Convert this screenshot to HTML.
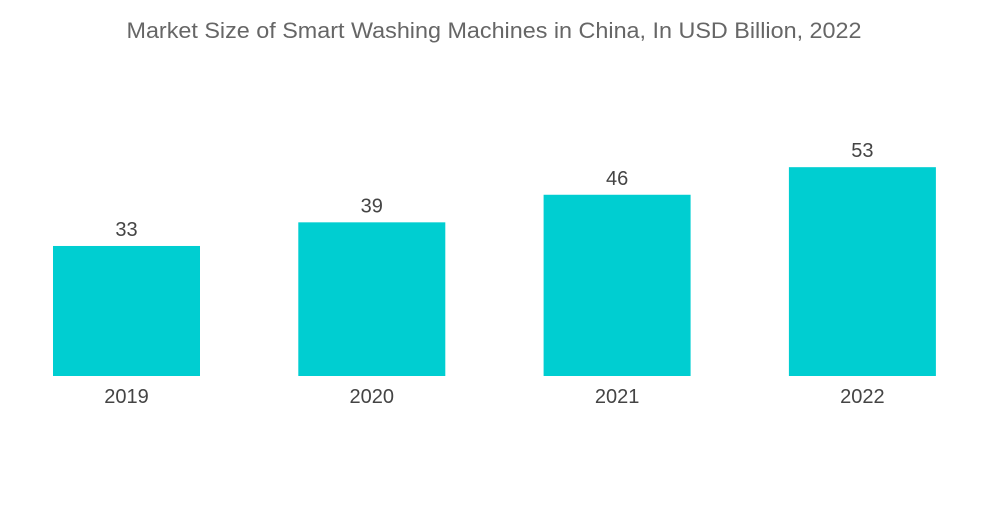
<!DOCTYPE html>
<html><head><meta charset="utf-8"><style>
body{margin:0;background:#fff;}
svg text{font-family:"Liberation Sans",sans-serif;}
</style></head><body>
<svg id="chart" width="1000" height="504">
<text x="494" y="38" text-anchor="middle" font-size="22.5" fill="#666" textLength="735" lengthAdjust="spacingAndGlyphs">Market Size of Smart Washing Machines in China, In USD Billion, 2022</text>
<g id="bars"></g>
</svg>
<script>
const categories = ["2019","2020","2021","2022"];
const values = [33,39,46,53];
const svg = document.getElementById('bars');
const ns = "http://www.w3.org/2000/svg";
const baseY = 376, pxPerUnit = 3.94, barW = 147, step = 245.3, x0 = 53;
function xPos(i){return x0 + i*step;}
function yPos(v){return baseY - v*pxPerUnit;}
categories.forEach((c,i)=>{
  const r=document.createElementNS(ns,'rect');
  r.setAttribute('x',xPos(i));r.setAttribute('y',yPos(values[i]));
  r.setAttribute('width',barW);r.setAttribute('height',baseY-yPos(values[i]));
  r.setAttribute('fill','#00CED1');
  
  
  svg.appendChild(r);
  const t=document.createElementNS(ns,'text');
  t.setAttribute('x',xPos(i)+barW/2);t.setAttribute('y',yPos(values[i])-10);
  t.setAttribute('text-anchor','middle');t.setAttribute('font-size','20');t.setAttribute('fill','#444');
  t.textContent=values[i];
  
  
  svg.appendChild(t);
  const l=document.createElementNS(ns,'text');
  l.setAttribute('x',xPos(i)+barW/2);l.setAttribute('y',403);
  l.setAttribute('text-anchor','middle');l.setAttribute('font-size','20');l.setAttribute('fill','#444');
  l.textContent=c;
  
  
  svg.appendChild(l);
});
</script>
</body></html>
